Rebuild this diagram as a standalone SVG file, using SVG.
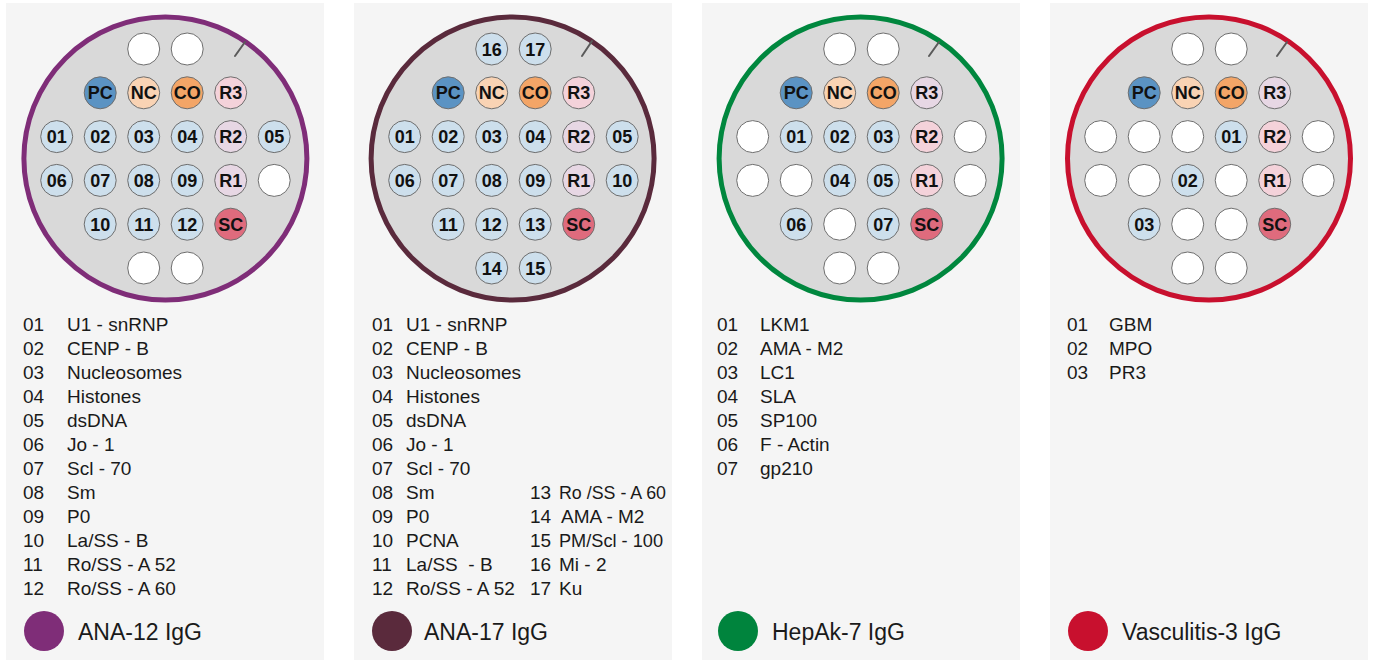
<svg xmlns="http://www.w3.org/2000/svg" width="1375" height="661" viewBox="0 0 1375 661">
<style>
.panel{fill:#f5f5f5}
.plate{fill:#d9d9d9;stroke-width:5}
.slash{stroke:#5a5a5a;stroke-width:2;stroke-linecap:round}
.w circle,.b circle,.pc circle,.nc circle,.co circle,.pk circle,.lv circle,.sc circle{stroke:#6e6e6e;stroke-width:1}
.w circle{fill:#ffffff}
.b circle{fill:#cddfec}
.pc circle{fill:#5b93c3}
.nc circle{fill:#f9d3b4}
.co circle{fill:#f3a567}
.pk circle{fill:#f4d2da}
.lv circle{fill:#e7d7e4}
.sc circle{fill:#df6b7d}
.well text{font-family:"Liberation Sans",Arial,sans-serif;font-weight:bold;font-size:18px;fill:#111;text-anchor:middle}
.lst{font-family:"Liberation Sans",Arial,sans-serif;font-size:19px;fill:#1a1a1a}
.ttl{font-family:"Liberation Sans",Arial,sans-serif;font-size:23px;fill:#1a1a1a}
</style>
<rect width="1375" height="661" fill="#ffffff"/>

<!-- Panel 1: ANA-12 IgG -->
<g id="panel-ana12" transform="translate(6,0)">
<rect class="panel" x="0" y="3" width="318" height="657"/>
<circle class="plate" cx="159.4" cy="158.5" r="141.5" stroke="#7f2d78"/>
<line class="slash" x1="229" y1="56" x2="239" y2="42"/>
<g id="p1-r0c2" class="well w"><circle cx="137.7" cy="49" r="16"/></g>
<g id="p1-r0c3" class="well w"><circle cx="181.2" cy="49" r="16"/></g>
<g id="p1-pc" class="well pc"><circle cx="94.2" cy="92.8" r="16"/><text x="94.2" y="99.3">PC</text></g>
<g id="p1-nc" class="well nc"><circle cx="137.7" cy="92.8" r="16"/><text x="137.7" y="99.3">NC</text></g>
<g id="p1-co" class="well co"><circle cx="181.2" cy="92.8" r="16"/><text x="181.2" y="99.3">CO</text></g>
<g id="p1-r3" class="well pk"><circle cx="224.7" cy="92.8" r="16"/><text x="224.7" y="99.3">R3</text></g>
<g id="p1-01" class="well b"><circle cx="50.7" cy="136.6" r="16"/><text x="50.7" y="143.1">01</text></g>
<g id="p1-02" class="well b"><circle cx="94.2" cy="136.6" r="16"/><text x="94.2" y="143.1">02</text></g>
<g id="p1-03" class="well b"><circle cx="137.7" cy="136.6" r="16"/><text x="137.7" y="143.1">03</text></g>
<g id="p1-04" class="well b"><circle cx="181.2" cy="136.6" r="16"/><text x="181.2" y="143.1">04</text></g>
<g id="p1-r2" class="well lv"><circle cx="224.7" cy="136.6" r="16"/><text x="224.7" y="143.1">R2</text></g>
<g id="p1-05" class="well b"><circle cx="268.2" cy="136.6" r="16"/><text x="268.2" y="143.1">05</text></g>
<g id="p1-06" class="well b"><circle cx="50.7" cy="180.4" r="16"/><text x="50.7" y="186.9">06</text></g>
<g id="p1-07" class="well b"><circle cx="94.2" cy="180.4" r="16"/><text x="94.2" y="186.9">07</text></g>
<g id="p1-08" class="well b"><circle cx="137.7" cy="180.4" r="16"/><text x="137.7" y="186.9">08</text></g>
<g id="p1-09" class="well b"><circle cx="181.2" cy="180.4" r="16"/><text x="181.2" y="186.9">09</text></g>
<g id="p1-r1" class="well lv"><circle cx="224.7" cy="180.4" r="16"/><text x="224.7" y="186.9">R1</text></g>
<g id="p1-r3c5" class="well w"><circle cx="268.2" cy="180.4" r="16"/></g>
<g id="p1-10" class="well b"><circle cx="94.2" cy="224.2" r="16"/><text x="94.2" y="230.7">10</text></g>
<g id="p1-11" class="well b"><circle cx="137.7" cy="224.2" r="16"/><text x="137.7" y="230.7">11</text></g>
<g id="p1-12" class="well b"><circle cx="181.2" cy="224.2" r="16"/><text x="181.2" y="230.7">12</text></g>
<g id="p1-sc" class="well sc"><circle cx="224.7" cy="224.2" r="16"/><text x="224.7" y="230.7">SC</text></g>
<g id="p1-r5c2" class="well w"><circle cx="137.7" cy="268" r="16"/></g>
<g id="p1-r5c3" class="well w"><circle cx="181.2" cy="268" r="16"/></g>
<g id="p1-list" class="lst">
<text x="17" y="331">01</text><text x="61" y="331">U1 - snRNP</text>
<text x="17" y="355">02</text><text x="61" y="355">CENP - B</text>
<text x="17" y="379">03</text><text x="61" y="379">Nucleosomes</text>
<text x="17" y="403">04</text><text x="61" y="403">Histones</text>
<text x="17" y="427">05</text><text x="61" y="427">dsDNA</text>
<text x="17" y="451">06</text><text x="61" y="451">Jo - 1</text>
<text x="17" y="475">07</text><text x="61" y="475">Scl - 70</text>
<text x="17" y="499">08</text><text x="61" y="499">Sm</text>
<text x="17" y="523">09</text><text x="61" y="523">P0</text>
<text x="17" y="547">10</text><text x="61" y="547">La/SS - B</text>
<text x="17" y="571">11</text><text x="61" y="571">Ro/SS - A 52</text>
<text x="17" y="595">12</text><text x="61" y="595">Ro/SS - A 60</text>
</g>
<g id="p1-legend"><circle cx="38" cy="631" r="20" fill="#7f2d78"/><text class="ttl" x="72" y="640">ANA-12 IgG</text></g>
</g>

<!-- Panel 2: ANA-17 IgG -->
<g id="panel-ana17" transform="translate(354,0)">
<rect class="panel" x="0" y="3" width="318" height="657"/>
<circle class="plate" cx="158.6" cy="158.5" r="141.5" stroke="#5a2a3c"/>
<line class="slash" x1="228" y1="56" x2="238" y2="41"/>
<g id="p2-16" class="well b"><circle cx="137.7" cy="49" r="16"/><text x="137.7" y="55.5">16</text></g>
<g id="p2-17" class="well b"><circle cx="181.2" cy="49" r="16"/><text x="181.2" y="55.5">17</text></g>
<g id="p2-pc" class="well pc"><circle cx="94.2" cy="92.8" r="16"/><text x="94.2" y="99.3">PC</text></g>
<g id="p2-nc" class="well nc"><circle cx="137.7" cy="92.8" r="16"/><text x="137.7" y="99.3">NC</text></g>
<g id="p2-co" class="well co"><circle cx="181.2" cy="92.8" r="16"/><text x="181.2" y="99.3">CO</text></g>
<g id="p2-r3" class="well pk"><circle cx="224.7" cy="92.8" r="16"/><text x="224.7" y="99.3">R3</text></g>
<g id="p2-01" class="well b"><circle cx="50.7" cy="136.6" r="16"/><text x="50.7" y="143.1">01</text></g>
<g id="p2-02" class="well b"><circle cx="94.2" cy="136.6" r="16"/><text x="94.2" y="143.1">02</text></g>
<g id="p2-03" class="well b"><circle cx="137.7" cy="136.6" r="16"/><text x="137.7" y="143.1">03</text></g>
<g id="p2-04" class="well b"><circle cx="181.2" cy="136.6" r="16"/><text x="181.2" y="143.1">04</text></g>
<g id="p2-r2" class="well lv"><circle cx="224.7" cy="136.6" r="16"/><text x="224.7" y="143.1">R2</text></g>
<g id="p2-05" class="well b"><circle cx="268.2" cy="136.6" r="16"/><text x="268.2" y="143.1">05</text></g>
<g id="p2-06" class="well b"><circle cx="50.7" cy="180.4" r="16"/><text x="50.7" y="186.9">06</text></g>
<g id="p2-07" class="well b"><circle cx="94.2" cy="180.4" r="16"/><text x="94.2" y="186.9">07</text></g>
<g id="p2-08" class="well b"><circle cx="137.7" cy="180.4" r="16"/><text x="137.7" y="186.9">08</text></g>
<g id="p2-09" class="well b"><circle cx="181.2" cy="180.4" r="16"/><text x="181.2" y="186.9">09</text></g>
<g id="p2-r1" class="well lv"><circle cx="224.7" cy="180.4" r="16"/><text x="224.7" y="186.9">R1</text></g>
<g id="p2-10" class="well b"><circle cx="268.2" cy="180.4" r="16"/><text x="268.2" y="186.9">10</text></g>
<g id="p2-11" class="well b"><circle cx="94.2" cy="224.2" r="16"/><text x="94.2" y="230.7">11</text></g>
<g id="p2-12" class="well b"><circle cx="137.7" cy="224.2" r="16"/><text x="137.7" y="230.7">12</text></g>
<g id="p2-13" class="well b"><circle cx="181.2" cy="224.2" r="16"/><text x="181.2" y="230.7">13</text></g>
<g id="p2-sc" class="well sc"><circle cx="224.7" cy="224.2" r="16"/><text x="224.7" y="230.7">SC</text></g>
<g id="p2-14" class="well b"><circle cx="137.7" cy="268" r="16"/><text x="137.7" y="274.5">14</text></g>
<g id="p2-15" class="well b"><circle cx="181.2" cy="268" r="16"/><text x="181.2" y="274.5">15</text></g>
<g id="p2-list" class="lst">
<text x="18" y="331">01</text><text x="52" y="331">U1 - snRNP</text>
<text x="18" y="355">02</text><text x="52" y="355">CENP - B</text>
<text x="18" y="379">03</text><text x="52" y="379">Nucleosomes</text>
<text x="18" y="403">04</text><text x="52" y="403">Histones</text>
<text x="18" y="427">05</text><text x="52" y="427">dsDNA</text>
<text x="18" y="451">06</text><text x="52" y="451">Jo - 1</text>
<text x="18" y="475">07</text><text x="52" y="475">Scl - 70</text>
<text x="18" y="499">08</text><text x="52" y="499">Sm</text>
<text x="18" y="523">09</text><text x="52" y="523">P0</text>
<text x="18" y="547">10</text><text x="52" y="547">PCNA</text>
<text x="18" y="571">11</text><text x="52" y="571" xml:space="preserve">La/SS  - B</text>
<text x="18" y="595">12</text><text x="52" y="595">Ro/SS - A 52</text>
<text x="176" y="499">13</text><text x="205" y="499" textLength="107" lengthAdjust="spacingAndGlyphs">Ro /SS - A 60</text>
<text x="176" y="523">14</text><text x="207" y="523">AMA - M2</text>
<text x="176" y="547">15</text><text x="205" y="547" textLength="104" lengthAdjust="spacingAndGlyphs">PM/Scl - 100</text>
<text x="176" y="571">16</text><text x="205" y="571">Mi - 2</text>
<text x="176" y="595">17</text><text x="205" y="595">Ku</text>
</g>
<g id="p2-legend"><circle cx="38" cy="631" r="20" fill="#5a2a3c"/><text class="ttl" x="70" y="640">ANA-17 IgG</text></g>
</g>

<!-- Panel 3: HepAk-7 IgG -->
<g id="panel-hepak7" transform="translate(702,0)">
<rect class="panel" x="0" y="3" width="318" height="657"/>
<circle class="plate" cx="158.6" cy="158.5" r="141.5" stroke="#00873e"/>
<line class="slash" x1="227" y1="56" x2="237" y2="42"/>
<g id="p3-r0c2" class="well w"><circle cx="137.7" cy="49" r="16"/></g>
<g id="p3-r0c3" class="well w"><circle cx="181.2" cy="49" r="16"/></g>
<g id="p3-pc" class="well pc"><circle cx="94.2" cy="92.8" r="16"/><text x="94.2" y="99.3">PC</text></g>
<g id="p3-nc" class="well nc"><circle cx="137.7" cy="92.8" r="16"/><text x="137.7" y="99.3">NC</text></g>
<g id="p3-co" class="well co"><circle cx="181.2" cy="92.8" r="16"/><text x="181.2" y="99.3">CO</text></g>
<g id="p3-r3" class="well lv"><circle cx="224.7" cy="92.8" r="16"/><text x="224.7" y="99.3">R3</text></g>
<g id="p3-r2c0" class="well w"><circle cx="50.7" cy="136.6" r="16"/></g>
<g id="p3-01" class="well b"><circle cx="94.2" cy="136.6" r="16"/><text x="94.2" y="143.1">01</text></g>
<g id="p3-02" class="well b"><circle cx="137.7" cy="136.6" r="16"/><text x="137.7" y="143.1">02</text></g>
<g id="p3-03" class="well b"><circle cx="181.2" cy="136.6" r="16"/><text x="181.2" y="143.1">03</text></g>
<g id="p3-r2" class="well pk"><circle cx="224.7" cy="136.6" r="16"/><text x="224.7" y="143.1">R2</text></g>
<g id="p3-r2c5" class="well w"><circle cx="268.2" cy="136.6" r="16"/></g>
<g id="p3-r3c0" class="well w"><circle cx="50.7" cy="180.4" r="16"/></g>
<g id="p3-r3c1" class="well w"><circle cx="94.2" cy="180.4" r="16"/></g>
<g id="p3-04" class="well b"><circle cx="137.7" cy="180.4" r="16"/><text x="137.7" y="186.9">04</text></g>
<g id="p3-05" class="well b"><circle cx="181.2" cy="180.4" r="16"/><text x="181.2" y="186.9">05</text></g>
<g id="p3-r1" class="well pk"><circle cx="224.7" cy="180.4" r="16"/><text x="224.7" y="186.9">R1</text></g>
<g id="p3-r3c5" class="well w"><circle cx="268.2" cy="180.4" r="16"/></g>
<g id="p3-06" class="well b"><circle cx="94.2" cy="224.2" r="16"/><text x="94.2" y="230.7">06</text></g>
<g id="p3-r4c2" class="well w"><circle cx="137.7" cy="224.2" r="16"/></g>
<g id="p3-07" class="well b"><circle cx="181.2" cy="224.2" r="16"/><text x="181.2" y="230.7">07</text></g>
<g id="p3-sc" class="well sc"><circle cx="224.7" cy="224.2" r="16"/><text x="224.7" y="230.7">SC</text></g>
<g id="p3-r5c2" class="well w"><circle cx="137.7" cy="268" r="16"/></g>
<g id="p3-r5c3" class="well w"><circle cx="181.2" cy="268" r="16"/></g>
<g id="p3-list" class="lst">
<text x="15" y="331">01</text><text x="58" y="331">LKM1</text>
<text x="15" y="355">02</text><text x="58" y="355">AMA - M2</text>
<text x="15" y="379">03</text><text x="58" y="379">LC1</text>
<text x="15" y="403">04</text><text x="58" y="403">SLA</text>
<text x="15" y="427">05</text><text x="58" y="427">SP100</text>
<text x="15" y="451">06</text><text x="58" y="451">F - Actin</text>
<text x="15" y="475">07</text><text x="58" y="475">gp210</text>
</g>
<g id="p3-legend"><circle cx="36" cy="631" r="20" fill="#00843d"/><text class="ttl" x="70" y="640">HepAk-7 IgG</text></g>
</g>

<!-- Panel 4: Vasculitis-3 IgG -->
<g id="panel-vasc3" transform="translate(1050,0)">
<rect class="panel" x="0" y="3" width="318" height="657"/>
<circle class="plate" cx="159" cy="158.5" r="141.5" stroke="#c8102e"/>
<line class="slash" x1="227" y1="56" x2="237" y2="42"/>
<g id="p4-r0c2" class="well w"><circle cx="137.7" cy="49" r="16"/></g>
<g id="p4-r0c3" class="well w"><circle cx="181.2" cy="49" r="16"/></g>
<g id="p4-pc" class="well pc"><circle cx="94.2" cy="92.8" r="16"/><text x="94.2" y="99.3">PC</text></g>
<g id="p4-nc" class="well nc"><circle cx="137.7" cy="92.8" r="16"/><text x="137.7" y="99.3">NC</text></g>
<g id="p4-co" class="well co"><circle cx="181.2" cy="92.8" r="16"/><text x="181.2" y="99.3">CO</text></g>
<g id="p4-r3" class="well lv"><circle cx="224.7" cy="92.8" r="16"/><text x="224.7" y="99.3">R3</text></g>
<g id="p4-r2c0" class="well w"><circle cx="50.7" cy="136.6" r="16"/></g>
<g id="p4-r2c1" class="well w"><circle cx="94.2" cy="136.6" r="16"/></g>
<g id="p4-r2c2" class="well w"><circle cx="137.7" cy="136.6" r="16"/></g>
<g id="p4-01" class="well b"><circle cx="181.2" cy="136.6" r="16"/><text x="181.2" y="143.1">01</text></g>
<g id="p4-r2" class="well pk"><circle cx="224.7" cy="136.6" r="16"/><text x="224.7" y="143.1">R2</text></g>
<g id="p4-r2c5" class="well w"><circle cx="268.2" cy="136.6" r="16"/></g>
<g id="p4-r3c0" class="well w"><circle cx="50.7" cy="180.4" r="16"/></g>
<g id="p4-r3c1" class="well w"><circle cx="94.2" cy="180.4" r="16"/></g>
<g id="p4-02" class="well b"><circle cx="137.7" cy="180.4" r="16"/><text x="137.7" y="186.9">02</text></g>
<g id="p4-r3c3" class="well w"><circle cx="181.2" cy="180.4" r="16"/></g>
<g id="p4-r1" class="well pk"><circle cx="224.7" cy="180.4" r="16"/><text x="224.7" y="186.9">R1</text></g>
<g id="p4-r3c5" class="well w"><circle cx="268.2" cy="180.4" r="16"/></g>
<g id="p4-03" class="well b"><circle cx="94.2" cy="224.2" r="16"/><text x="94.2" y="230.7">03</text></g>
<g id="p4-r4c2" class="well w"><circle cx="137.7" cy="224.2" r="16"/></g>
<g id="p4-r4c3" class="well w"><circle cx="181.2" cy="224.2" r="16"/></g>
<g id="p4-sc" class="well sc"><circle cx="224.7" cy="224.2" r="16"/><text x="224.7" y="230.7">SC</text></g>
<g id="p4-r5c2" class="well w"><circle cx="137.7" cy="268" r="16"/></g>
<g id="p4-r5c3" class="well w"><circle cx="181.2" cy="268" r="16"/></g>
<g id="p4-list" class="lst">
<text x="17" y="331">01</text><text x="59" y="331">GBM</text>
<text x="17" y="355">02</text><text x="59" y="355">MPO</text>
<text x="17" y="379">03</text><text x="59" y="379">PR3</text>
</g>
<g id="p4-legend"><circle cx="38" cy="631" r="20" fill="#c8102e"/><text class="ttl" x="72" y="640">Vasculitis-3 IgG</text></g>
</g>

<g id="connectors"></g>
</svg>
